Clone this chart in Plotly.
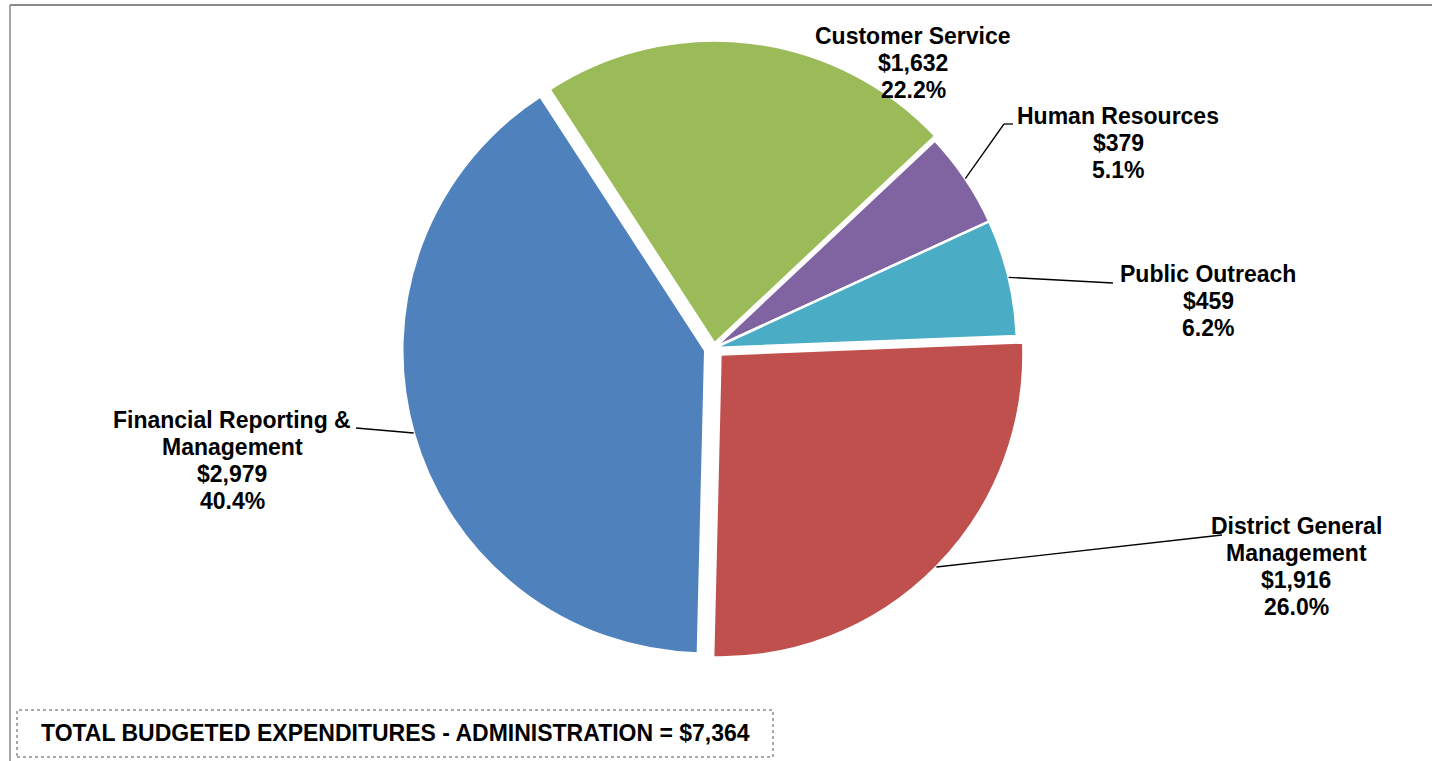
import math
import plotly.graph_objects as go

W, H = 1448, 761

# ---- data ----
programs = ["Customer Service", "Human Resources", "Public Outreach",
            "District General Management", "Financial Reporting & Management"]
label_lines = [["Customer Service"], ["Human Resources"], ["Public Outreach"],
               ["District General", "Management"], ["Financial Reporting &", "Management"]]
values = [1632, 379, 459, 1916, 2979]
percents = [22.2, 5.1, 6.2, 26.0, 40.4]
total = 7364
colors = ["#9BBB59", "#8064A2", "#4BACC6", "#C0504D", "#4F81BD"]
pulls = [0.015, 0, 0, 0.03, 0.03]

# ---- layout settings ----
ROT = -33
R = 303
CX, CY = 714, 348
MAXPULL = max(pulls)
box = 2 * R * (1 + MAXPULL)
dom_x = [(CX - box / 2) / W, (CX + box / 2) / W]
dom_y = [1 - (CY + box / 2) / H, 1 - (CY - box / 2) / H]

FONT = "Liberation Sans, Arial, sans-serif"
FSIZE = 23
LINE_GAP = 27
label_pos = [(913, 36), (1118, 116), (1208, 274), (1296, 526), (232, 420)]
leader_ends = [None, [(1004, 124), (1013, 124)], [(1113, 283)], [(1222, 535)], [(356, 428)]]


def px(x):
    return x / W


def py(y):
    return 1 - y / H


fig = go.Figure(go.Pie(
    labels=programs, values=values, sort=False, direction="clockwise",
    rotation=ROT, pull=pulls, textinfo="none", hoverinfo="label+value+percent",
    marker=dict(colors=colors, line=dict(color="white", width=2.5)),
    domain=dict(x=dom_x, y=dom_y), showlegend=False,
))

annotations = []
shapes = []

vsum = sum(values)
cum = 0
for i, v in enumerate(values):
    mid = math.radians(ROT + 360 * (cum + v / 2) / vsum)
    cum += v
    # labels
    lx, ly = label_pos[i]
    lines = label_lines[i] + [f"${values[i]:,}", f"{percents[i]:.1f}%"]
    for k, t in enumerate(lines):
        annotations.append(dict(
            x=px(lx), y=py(ly + k * LINE_GAP), xref="paper", yref="paper",
            text=f"<b>{t}</b>", showarrow=False, xanchor="center", yanchor="middle",
            font=dict(family=FONT, size=FSIZE, color="black"),
        ))
    # leader lines from slice edge at mid angle
    if leader_ends[i]:
        rr = R * (1 + pulls[i])
        sx = CX + rr * math.sin(mid)
        sy = CY - rr * math.cos(mid)
        pts = [(sx, sy)] + leader_ends[i]
        for (x0, y0), (x1, y1) in zip(pts[:-1], pts[1:]):
            shapes.append(dict(type="line", xref="paper", yref="paper",
                               x0=px(x0), y0=py(y0), x1=px(x1), y1=py(y1),
                               line=dict(color="black", width=1.3)))

# total box
shapes.append(dict(type="rect", xref="paper", yref="paper",
                   x0=px(17), y0=py(757), x1=px(773), y1=py(710),
                   line=dict(color="#555555", width=1, dash="dot")))
annotations.append(dict(
    x=px(395), y=py(733), xref="paper", yref="paper",
    text=f"<b>TOTAL BUDGETED EXPENDITURES - ADMINISTRATION = ${total:,}</b>",
    showarrow=False, xanchor="center", yanchor="middle",
    font=dict(family=FONT, size=FSIZE, color="black"),
))

# frame lines
shapes.append(dict(type="line", xref="paper", yref="paper",
                   x0=px(10), y0=py(5), x1=px(1432), y1=py(5),
                   line=dict(color="#8a8a8a", width=2)))
shapes.append(dict(type="line", xref="paper", yref="paper",
                   x0=px(10), y0=py(5), x1=px(10), y1=py(761),
                   line=dict(color="#8a8a8a", width=1.5)))

fig.update_layout(
    width=W, height=H, autosize=False,
    margin=dict(l=0, r=0, t=0, b=0),
    paper_bgcolor="white", plot_bgcolor="white",
    annotations=annotations, shapes=shapes,
)

fig.write_html("out.html")
